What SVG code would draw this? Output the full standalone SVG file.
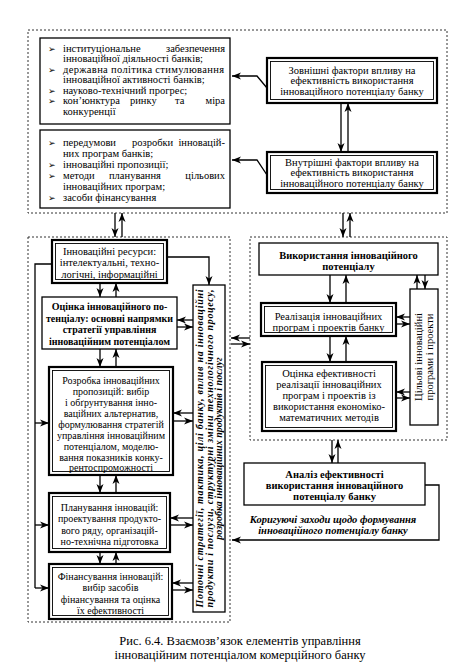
<svg xmlns="http://www.w3.org/2000/svg" width="454" height="669" viewBox="0 0 454 669">
<style>
text{font-family:"Liberation Serif","Times New Roman",serif;fill:#000}
.t{font-size:10.5px}
.s{font-size:10px}
.c{text-anchor:middle}
.b{font-weight:bold}
.bi{font-weight:bold;font-style:italic}
.bul{font-family:"DejaVu Sans",sans-serif;font-size:9px}
.box{fill:#fff;stroke:#000;stroke-width:1.3}
.dbl{fill:#fff;stroke:#000;stroke-width:2.2}
.inn{fill:none;stroke:#000;stroke-width:0.9}
.dash{fill:none;stroke:#333;stroke-width:1;stroke-dasharray:2,2}
.ln{fill:none;stroke:#000;stroke-width:1.3}
.ar{fill:none;stroke:#000;stroke-width:1.3;marker-end:url(#ah)}
</style>
<defs>
<marker id="ah" markerUnits="userSpaceOnUse" markerWidth="10" markerHeight="8" refX="9" refY="4" orient="auto">
<path d="M0,0.5 L9,4 L0,7.5 L2.5,4 z" fill="#000"/>
</marker>
</defs>
<rect width="454" height="669" fill="#fff"/>

<g id="groups">
<rect class="dash" x="28" y="30" width="419" height="183"/>
<rect class="dash" x="28" y="237" width="202" height="385"/>
<rect class="dash" x="250" y="237" width="197" height="203"/>
</g>

<g id="connectors">
<polyline class="ar" points="267,88 257,76 232,76"/>
<polyline class="ar" points="267,175 257,160 232,160"/>
<line class="ar" x1="341" y1="103" x2="341" y2="152"/>
<line class="ar" x1="348" y1="152" x2="348" y2="103"/>
<line class="ar" x1="115" y1="213" x2="115" y2="237"/>
<line class="ar" x1="122" y1="237" x2="122" y2="213"/>
<line class="ar" x1="343" y1="213" x2="343" y2="237"/>
<line class="ar" x1="350" y1="237" x2="350" y2="213"/>
<line class="ar" x1="100" y1="283" x2="100" y2="297"/>
<line class="ar" x1="116" y1="297" x2="116" y2="283"/>
<line class="ar" x1="100" y1="349" x2="100" y2="367"/>
<line class="ar" x1="116" y1="367" x2="116" y2="349"/>
<line class="ar" x1="100" y1="475" x2="100" y2="493"/>
<line class="ar" x1="116" y1="493" x2="116" y2="475"/>
<line class="ar" x1="100" y1="552" x2="100" y2="564"/>
<line class="ar" x1="116" y1="564" x2="116" y2="552"/>
<polyline class="ar" points="167,257 209,257 209,285"/>
<polyline class="ln" points="52,264 35,264 35,588"/>
<line class="ar" x1="35" y1="423" x2="49" y2="423"/>
<line class="ar" x1="35" y1="525" x2="49" y2="525"/>
<line class="ar" x1="35" y1="588" x2="49" y2="588"/>
<line class="ar" x1="193" y1="320" x2="177" y2="320"/>
<line class="ar" x1="177" y1="327" x2="193" y2="327"/>
<line class="ar" x1="193" y1="413" x2="173" y2="413"/>
<line class="ar" x1="173" y1="421" x2="193" y2="421"/>
<line class="ar" x1="193" y1="518" x2="170" y2="518"/>
<line class="ar" x1="170" y1="525" x2="193" y2="525"/>
<line class="ar" x1="193" y1="583" x2="172" y2="583"/>
<line class="ar" x1="172" y1="590" x2="193" y2="590"/>
<line class="ar" x1="250" y1="338" x2="231" y2="338"/>
<line class="ar" x1="231" y1="344" x2="250" y2="344"/>
<line class="ar" x1="330" y1="275" x2="330" y2="303"/>
<line class="ar" x1="346" y1="303" x2="346" y2="275"/>
<line class="ar" x1="330" y1="336" x2="330" y2="362"/>
<line class="ar" x1="346" y1="362" x2="346" y2="336"/>
<line class="ar" x1="417" y1="289" x2="417" y2="275"/>
<line class="ar" x1="425" y1="275" x2="425" y2="289"/>
<line class="ar" x1="410" y1="317" x2="396" y2="317"/>
<line class="ar" x1="396" y1="324" x2="410" y2="324"/>
<line class="ar" x1="410" y1="392" x2="396" y2="392"/>
<line class="ar" x1="396" y1="398" x2="410" y2="398"/>
<line class="ar" x1="332" y1="440" x2="332" y2="463"/>
<line class="ar" x1="338" y1="463" x2="338" y2="440"/>
<polyline class="ar" points="425,485 439,485 439,540 232,540"/>
</g>

<g id="ext-list">
<rect class="box" x="40" y="38" width="190" height="86"/>
<text class="bul" x="48" y="51.5">➢</text>
<text class="bul" x="48" y="72.5">➢</text>
<text class="bul" x="48" y="93.5">➢</text>
<text class="bul" x="48" y="104">➢</text>
<text class="t" x="63" y="51.5">інституціональне</text>
<text class="t" x="225" y="51.5" text-anchor="end">забезпечення</text>
<text class="t" x="63" y="62">інноваційної діяльності банків;</text>
<text class="t" x="63" y="72.5" textLength="161" lengthAdjust="spacing">державна політика стимулювання</text>
<text class="t" x="63" y="83">інноваційної активності банків;</text>
<text class="t" x="63" y="93.5">науково-технічний прогрес;</text>
<text class="t" x="63" y="104">кон’юнктура</text>
<text class="t" x="130" y="104">ринку</text>
<text class="t" x="175" y="104">та</text>
<text class="t" x="225" y="104" text-anchor="end">міра</text>
<text class="t" x="63" y="114.5">конкуренції</text>
</g>

<g id="ext-factors">
<rect class="dbl" x="267" y="58" width="170" height="45"/>
<rect class="inn" x="270.5" y="61.5" width="163" height="38"/>
<text class="t c" x="352" y="73.5">Зовнішні фактори впливу на</text>
<text class="t c" x="352" y="84">ефективність використання</text>
<text class="t c" x="352" y="94.5">інноваційного потенціалу банку</text>
</g>

<g id="int-list">
<rect class="box" x="40" y="130" width="190" height="78"/>
<text class="bul" x="48" y="145.5">➢</text>
<text class="bul" x="48" y="167.5">➢</text>
<text class="bul" x="48" y="178.5">➢</text>
<text class="bul" x="48" y="200.5">➢</text>
<text class="t" x="63" y="145.5">передумови</text>
<text class="t" x="132" y="145.5">розробки</text>
<text class="t" x="225" y="145.5" text-anchor="end">інновацій-</text>
<text class="t" x="63" y="156.5">них програм банків;</text>
<text class="t" x="63" y="167.5">інноваційні пропозиції;</text>
<text class="t" x="63" y="178.5">методи</text>
<text class="t" x="109" y="178.5">планування</text>
<text class="t" x="225" y="178.5" text-anchor="end">цільових</text>
<text class="t" x="63" y="189.5">інноваційних програм;</text>
<text class="t" x="63" y="200.5">засоби фінансування</text>
</g>

<g id="int-factors">
<rect class="dbl" x="267" y="152" width="170" height="41"/>
<rect class="inn" x="270.5" y="155.5" width="163" height="34"/>
<text class="t c" x="352" y="165.5">Внутрішні фактори впливу на</text>
<text class="t c" x="352" y="176">ефективність використання</text>
<text class="t c" x="352" y="186.5">інноваційного потенціалу банку</text>
</g>

<g id="resources">
<rect class="dbl" x="52" y="240" width="115" height="43"/>
<rect class="inn" x="55.5" y="243.5" width="108" height="36"/>
<text class="t c" x="109.5" y="254.5">Інноваційні ресурси:</text>
<text class="t c" x="109.5" y="266">інтелектуальні, техно-</text>
<text class="t c" x="109.5" y="277.5">логічні, інформаційні</text>
</g>

<g id="assessment">
<rect class="box" x="42" y="297" width="135" height="52"/>
<text class="s c b" x="109.5" y="310">Оцінка інноваційного по-</text>
<text class="s c b" x="109.5" y="321.5">тенціалу: основні напрямки</text>
<text class="s c b" x="109.5" y="333">стратегії управління</text>
<text class="s c b" x="109.5" y="344.5">інноваційним потенціалом</text>
</g>

<g id="development">
<rect class="dbl" x="49" y="367" width="124" height="108"/>
<rect class="inn" x="52.5" y="370.5" width="117" height="101"/>
<text class="s c" x="111" y="383.5">Розробка інноваційних</text>
<text class="s c" x="111" y="394.5">пропозицій: вибір</text>
<text class="s c" x="111" y="405.5">і обґрунтування інно-</text>
<text class="s c" x="111" y="416.5">ваційних альтернатив,</text>
<text class="s c" x="111" y="427.5">формулювання стратегій</text>
<text class="s c" x="111" y="438.5">управління інноваційним</text>
<text class="s c" x="111" y="449.5">потенціалом, моделю-</text>
<text class="s c" x="111" y="460.5">вання показників конку-</text>
<text class="s c" x="111" y="471">рентоспроможності</text>
</g>

<g id="planning">
<rect class="dbl" x="49" y="493" width="121" height="59"/>
<rect class="inn" x="52.5" y="496.5" width="114" height="52"/>
<text class="s c" x="109.5" y="510.5">Планування інновацій:</text>
<text class="s c" x="109.5" y="522">проектування продукто-</text>
<text class="s c" x="109.5" y="533.5">вого ряду, організацій-</text>
<text class="s c" x="109.5" y="545">но-технічна підготовка</text>
</g>

<g id="financing">
<rect class="dbl" x="49" y="564" width="123" height="55"/>
<rect class="inn" x="52.5" y="567.5" width="116" height="48"/>
<text class="s c" x="110.5" y="579.5">Фінансування інновацій:</text>
<text class="s c" x="110.5" y="591">вибір засобів</text>
<text class="s c" x="110.5" y="602.5">фінансування та оцінка</text>
<text class="s c" x="110.5" y="613.5">їх ефективності</text>
</g>

<g id="strategies">
<rect class="box" x="193" y="285" width="32" height="327"/>
<text class="bi c" style="font-size:10px" transform="translate(203,448.5) rotate(-90)" textLength="318" lengthAdjust="spacing">Поточні стратегії, тактика, цілі банку, вплив на інноваційні</text>
<text class="bi c" style="font-size:10px" transform="translate(212.5,448.5) rotate(-90)" textLength="318" lengthAdjust="spacing">продукти і послуги, структурні зміни технологічного процесу,</text>
<text class="bi c" style="font-size:10px" transform="translate(222,448.5) rotate(-90)">розробка інноваційних продуктів і послуг</text>
</g>

<g id="usage">
<rect class="box" x="259" y="243" width="179" height="32"/>
<text class="t c b" x="348.5" y="258.5">Використання інноваційного</text>
<text class="t c b" x="348.5" y="269.5">потенціалу</text>
</g>

<g id="implementation">
<rect class="dbl" x="261" y="303" width="135" height="33"/>
<rect class="inn" x="264.5" y="306.5" width="128" height="26"/>
<text class="t c" x="328.5" y="319.5">Реалізація інноваційних</text>
<text class="t c" x="328.5" y="331">програм і проектів банку</text>
</g>

<g id="target-programs">
<rect class="box" x="410" y="289" width="28" height="136"/>
<text class="t c" transform="translate(421.5,357) rotate(-90)">Цільові інноваційні</text>
<text class="t c" transform="translate(433,357) rotate(-90)">програми і проекти</text>
</g>

<g id="efficiency">
<rect class="dbl" x="262" y="362" width="134" height="69"/>
<rect class="inn" x="265.5" y="365.5" width="127" height="62"/>
<text class="t c" x="329" y="376.5">Оцінка ефективності</text>
<text class="t c" x="329" y="387.7">реалізації інноваційних</text>
<text class="t c" x="329" y="398.9">програм і проектів із</text>
<text class="t c" x="329" y="410.1">використання економіко-</text>
<text class="t c" x="329" y="421.3">математичних методів</text>
</g>

<g id="analysis">
<rect class="box" x="244" y="463" width="181" height="42"/>
<text class="t c b" x="334.5" y="477.5">Аналіз ефективності</text>
<text class="t c b" x="334.5" y="488.5">використання інноваційного</text>
<text class="t c b" x="334.5" y="499.5">потенціалу банку</text>
</g>

<g id="corrective-label">
<text class="t c bi" x="333" y="522.5">Коригуючі заходи щодо формування</text>
<text class="t c bi" x="333" y="534">інноваційного потенціалу банку</text>
</g>

<g id="caption">
<text class="c" style="font-size:12.5px" x="240" y="645">Рис. 6.4. Взаємозв’язок елементів управління</text>
<text class="c" style="font-size:12.5px" x="240" y="659">інноваційним потенціалом комерційного банку</text>
</g>
</svg>
